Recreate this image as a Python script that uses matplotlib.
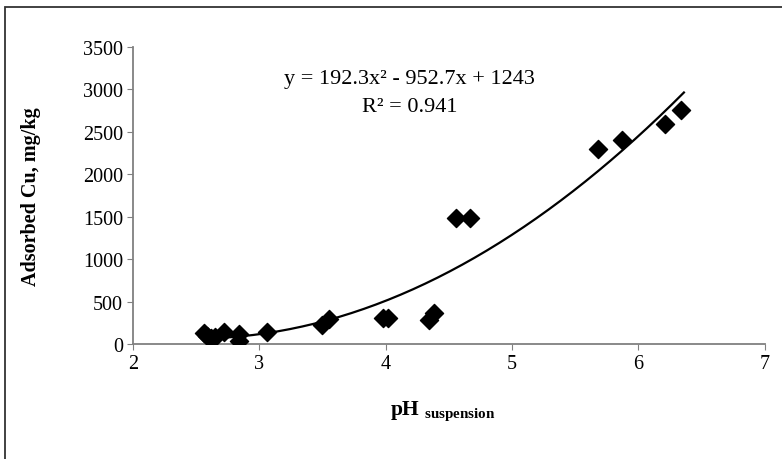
import numpy as np
import matplotlib.pyplot as plt
from matplotlib.patches import Rectangle

plt.rcParams['font.family'] = ['Liberation Serif', 'DejaVu Serif']
plt.rcParams['mathtext.fontset'] = 'custom'
plt.rcParams['mathtext.rm'] = 'Liberation Serif'
plt.rcParams['mathtext.bf'] = 'Liberation Serif:bold'

# data
ph = [2.56, 2.59, 2.62, 2.65, 2.72, 2.84, 2.84, 3.06, 3.50, 3.55,
      3.98, 4.02, 4.34, 4.38, 4.56, 4.67, 5.68, 5.87, 6.21, 6.34]
cu = [135, 95, 70, 85, 138, 118, 30, 145, 224, 290,
      306, 306, 286, 365, 1485, 1485, 2298, 2408, 2593, 2758]

# trendline coefficients shown on the chart
coef = [192.3, -952.7, 1243]

xticks = [2, 3, 4, 5, 6, 7]
yticks = [0, 500, 1000, 1500, 2000, 2500, 3000, 3500]

fig = plt.figure(figsize=(7.82, 4.6), dpi=100)
ax = fig.add_axes([0.170, 0.25, 0.808, 0.646])

xs = np.linspace(min(ph), max(ph) + 0.02, 40)
ax.plot(xs, np.polyval(coef, xs), color='black', lw=1.6, zorder=2)
ax.scatter(ph, cu, marker='D', s=85, color='black', zorder=3)

ax.set_xlim(2, 7)
ax.set_ylim(0, 3500)
ax.set_xticks(xticks)
ax.set_yticks(yticks)
ax.tick_params(labelsize=14.5, direction='out', length=4, color='#808080', pad=3)
for s in ['top', 'right']:
    ax.spines[s].set_visible(False)
for s in ['left', 'bottom']:
    ax.spines[s].set_color('#808080')
    ax.spines[s].set_linewidth(1.3)

ax.set_ylabel('Adsorbed Cu, mg/kg', fontsize=14.5, fontweight='bold')
ax.yaxis.set_label_coords(-0.145, 0.5)
ax.set_xlabel(r'$\mathbf{pH}$ $_{\mathbf{suspension}}$', fontsize=15.5)
ax.xaxis.set_label_coords(0.49, -0.185)

ax.text(0.438, 0.893, 'y = 192.3x² - 952.7x + 1243', transform=ax.transAxes,
        ha='center', va='center', fontsize=16)
ax.text(0.438, 0.798, 'R² = 0.941', transform=ax.transAxes,
        ha='center', va='center', fontsize=16)

fig.patches.append(Rectangle((0.007, -0.05), 1.05, 1.033, transform=fig.transFigure,
                             fill=False, edgecolor='#333333', lw=1.3))

fig.savefig('out.png', dpi=100)
